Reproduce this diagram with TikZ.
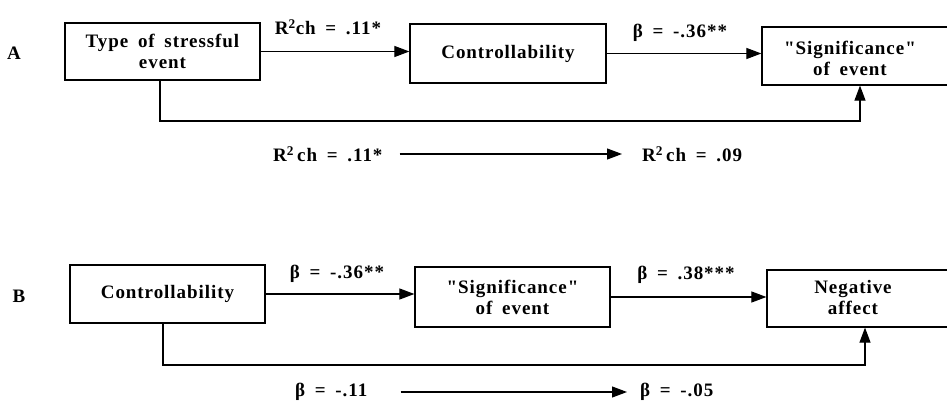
\documentclass[tikz,border=0pt]{standalone}
\usepackage{fontspec}
\setmainfont[LetterSpace=5, WordSpace=1.7, Ligatures=TeXOff]{Liberation Serif}
\usetikzlibrary{arrows.meta}
\tikzset{
  box/.style={draw, line width=1.2pt, inner sep=0pt, align=center},
  boxtext/.style={inner sep=0pt, align=center},
  lbl/.style={inner sep=0pt, anchor=center},
  lblw/.style={inner sep=0pt, anchor=west},
  arr/.style={line width=1.1pt, -{Triangle[length=15pt,width=11pt]}},
}
\begin{document}
\begin{tikzpicture}[x=1pt,y=-1pt,font=\fontsize{19}{21}\selectfont\bfseries]
\useasboundingbox (0,0) rectangle (947,403);
\clip (0,0) rectangle (947,403);
% ---------- Panel A ----------
\node[lbl] (lA) at (14,53) {A};
\node[box, minimum width=195pt, minimum height=57pt] (tse) at (162.5,51.5) {Type of stressful\\event};
\node[box, minimum width=196pt, minimum height=59pt] (conA) at (508,53.5) {Controllability};
\node[box, minimum width=200pt, minimum height=58pt] (sigA) at (862,56) {};
\node[boxtext] (sigAt) at (850,58) {"Significance"\\of event};
\draw[arr] (tse.east) -- (tse.east -| conA.west);
\draw[arr] (conA.east) -- (conA.east -| sigA.west);
\coordinate (fA) at (160,121);
\coordinate (gA) at (860,121);
\draw[arr] (tse.south -| fA) |- (gA) -- (gA |- sigA.south);
\node[lbl] (a1) at (328,27) {R\textsuperscript{2}ch = .11*};
\node[lbl] (a2) at (680,33) {β = -.36**};
\node[lblw] (a3) at (273,154) {R\textsuperscript{2}\,ch = .11*};
\node[lblw] (a4) at (642,154) {R\textsuperscript{2}\,ch = .09};
\draw[arr, shorten <=17pt, shorten >=20pt] (a3.east) -- (a4.west);
% ---------- Panel B ----------
\node[lbl] (lB) at (19,296) {B};
\node[box, minimum width=195pt, minimum height=58pt] (conB) at (167.5,294) {Controllability};
\node[box, minimum width=195pt, minimum height=60pt] (sigB) at (512.5,297) {"Significance"\\of event};
\node[box, minimum width=190pt, minimum height=57pt] (negB) at (862,298.5) {};
\node[boxtext] (negBt) at (853,298) {Negative\\affect};
\draw[arr] (conB.east) -- (conB.east -| sigB.west);
\draw[arr] (sigB.east) -- (sigB.east -| negB.west);
\coordinate (fB) at (163,365);
\coordinate (gB) at (865,365);
\draw[arr] (conB.south -| fB) |- (gB) -- (gB |- negB.south);
\node[lbl] (b1) at (337,274) {β = -.36**};
\node[lbl] (b2) at (686,275) {β = .38***};
\node[lblw] (b3) at (295,392) {β = -.11};
\node[lblw] (b4) at (640,392) {β = -.05};
\draw[arr, shorten <=33pt, shorten >=13pt] (b3.east) -- (b4.west);
\end{tikzpicture}
\end{document}
